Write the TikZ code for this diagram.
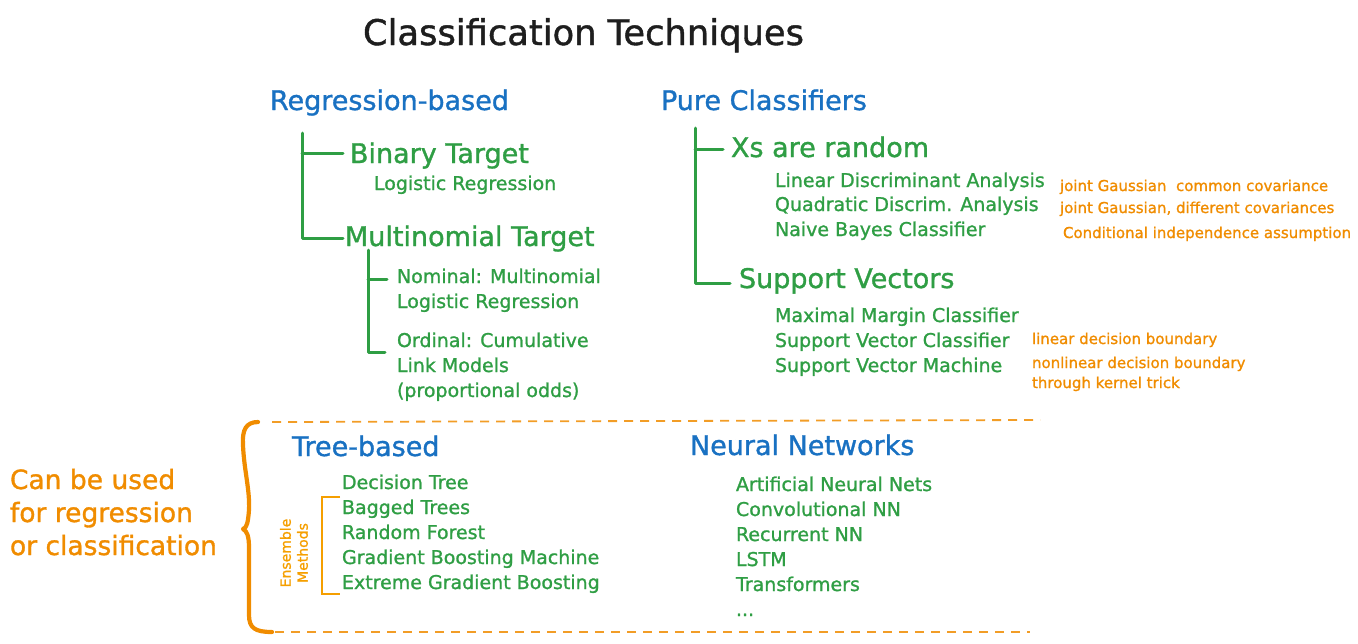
\documentclass[tikz,border=0pt]{standalone}
\usepackage{fontspec}
\setmainfont{DejaVu Sans}[BoldFont={DejaVu Sans},BoldFeatures={FakeBold=1.2}]
\definecolor{ttl}{HTML}{1E1E1E}
\definecolor{hblue}{HTML}{1971C2}
\definecolor{tgreen}{HTML}{2F9E44}
\definecolor{norange}{HTML}{F08C00}
\definecolor{eyellow}{HTML}{F59F00}
\tikzset{
  every node/.style={inner sep=0pt, outer sep=0pt, anchor=base west},
  titletxt/.style={text=ttl, font=\fontsize{35.3}{40}\selectfont\bfseries},
  headtxt/.style={text=hblue, font=\fontsize{27}{32}\selectfont\bfseries},
  subtxt/.style={text=tgreen, font=\fontsize{27}{32}\selectfont\bfseries},
  itemtxt/.style={text=tgreen, font=\fontsize{19}{23}\selectfont\bfseries},
  notetxt/.style={text=norange, font=\fontsize{15}{18}\selectfont\bfseries},
  sidetxt/.style={text=norange, font=\fontsize{26.5}{33}\selectfont\bfseries, align=left},
  enstxt/.style={text=eyellow, font=\fontsize{14}{17}\selectfont\bfseries, align=center, rotate=90, anchor=center},
  treeline/.style={draw=tgreen, line width=3pt, line cap=round, line join=round},
  bracebar/.style={draw=norange, line width=4.2pt, line cap=round, line join=round},
  ensbar/.style={draw=eyellow, line width=2.6pt},
  sepline/.style={draw=norange!85, line width=1.8pt, dash pattern=on 9pt off 7pt},
}
\begin{document}
\begin{tikzpicture}[x=1pt,y=-1pt]
\useasboundingbox (0,0) rectangle (1358,643);

% title
\node[titletxt] (title) at (363,45) {Classification Techniques};

% Regression-based
\node[headtxt] (reg) at (270,110) {Regression-based};
\node[subtxt] (bt) at (350,163) {Binary Target};
\node[itemtxt] (lr) at (374,190) {Logistic Regression};
\node[subtxt] (mt) at (345,246) {Multinomial Target};
\node[itemtxt] (nom1) at (397,283) {Nominal: Multinomial};
\node[itemtxt] (nom2) at (397,308) {Logistic Regression};
\node[itemtxt] (ord1) at (397,347) {Ordinal: Cumulative};
\node[itemtxt] (ord2) at (397,372) {Link Models};
\node[itemtxt] (ord3) at (397,397) {(proportional odds)};

\coordinate (r0) at (302,133);
\coordinate (r1) at (302,153);
\coordinate (r1e) at (343,153);
\coordinate (r2) at (302,238);
\coordinate (r2e) at (343,238);
\draw[treeline] (r0) -- (r2) -- (r2e);
\draw[treeline] (r1) -- (r1e);

\coordinate (m0) at (368,250);
\coordinate (m1) at (368,279);
\coordinate (m1e) at (387,279);
\coordinate (m2) at (368,352);
\coordinate (m2e) at (385,352);
\draw[treeline] (m0) -- (m2) -- (m2e);
\draw[treeline] (m1) -- (m1e);

% Pure classifiers
\node[headtxt] (pure) at (661,110) {Pure Classifiers};
\node[subtxt] (xs) at (731,157) {Xs are random};
\node[itemtxt] (lda) at (775,187) {Linear Discriminant Analysis};
\node[itemtxt] (qda) at (775,211) {Quadratic Discrim. Analysis};
\node[itemtxt] (nb) at (775,236) {Naive Bayes Classifier};
\node[notetxt] (n1) at (1060,191) {joint Gaussian\ \ common covariance};
\node[notetxt] (n2) at (1060,213) {joint Gaussian, different covariances};
\node[notetxt] (n3) at (1063,238) {Conditional independence assumption};

\node[subtxt] (sv) at (739,288) {Support Vectors};
\node[itemtxt] (mmc) at (775,322) {Maximal Margin Classifier};
\node[itemtxt] (svc) at (775,347) {Support Vector Classifier};
\node[itemtxt] (svm) at (775,372) {Support Vector Machine};
\node[notetxt] (n4) at (1032,344) {linear decision boundary};
\node[notetxt] (n5) at (1032,368) {nonlinear decision boundary};
\node[notetxt] (n6) at (1032,388) {through kernel trick};

\coordinate (p0) at (695,128);
\coordinate (p1) at (695,149);
\coordinate (p1e) at (723,149);
\coordinate (p2) at (695,283);
\coordinate (p2e) at (730,283);
\draw[treeline] (p0) -- (p2) -- (p2e);
\draw[treeline] (p1) -- (p1e);

% separators
\coordinate (s1a) at (272,422);
\coordinate (s1b) at (1040,420);
\coordinate (s2a) at (275,632);
\coordinate (s2b) at (1030,632);
\draw[sepline] (s1a) -- (s1b);
\draw[sepline] (s2a) -- (s2b);

% brace
\coordinate (b0) at (258,422);
\coordinate (bm) at (243,529);
\coordinate (b1) at (272,632);
\draw[bracebar] (b0) .. controls (246,422) and (242,430) .. (243,445)
  .. controls (244,470) and (250,490) .. (249,510)
  .. controls (248,522) and (247,528) .. (bm)
  .. controls (247,531) and (249,536) .. (249,548)
  -- (249,615) .. controls (249,628) and (255,632) .. (b1);

% side text
\node[sidetxt] (side) at (10,489) {Can be used};
\node[sidetxt] (side2) at (10,522) {for regression};
\node[sidetxt] (side3) at (10,555) {or classification};

% Tree-based
\node[headtxt] (tree) at (292,456) {Tree-based};
\node[itemtxt] (dt) at (342,489) {Decision Tree};
\node[itemtxt] (bag) at (342,514) {Bagged Trees};
\node[itemtxt] (rf) at (342,539) {Random Forest};
\node[itemtxt] (gbm) at (342,564) {Gradient Boosting Machine};
\node[itemtxt] (xgb) at (342,589) {Extreme Gradient Boosting};

\coordinate (e0) at (340,497);
\coordinate (e1) at (322,497);
\coordinate (e2) at (322,594);
\coordinate (e3) at (340,594);
\draw[ensbar] (e0) -- (e1) -- (e2) -- (e3);
\node[enstxt] (ens) at (294,553) {Ensemble\\Methods};

% Neural networks
\node[headtxt] (nn) at (690,455) {Neural Networks};
\node[itemtxt] (ann) at (736,491) {Artificial Neural Nets};
\node[itemtxt] (cnn) at (736,516) {Convolutional NN};
\node[itemtxt] (rnn) at (736,541) {Recurrent NN};
\node[itemtxt] (lstm) at (736,566) {LSTM};
\node[itemtxt] (tf) at (736,591) {Transformers};
\node[itemtxt] (dots) at (736,616) {...};
\end{tikzpicture}
\end{document}
